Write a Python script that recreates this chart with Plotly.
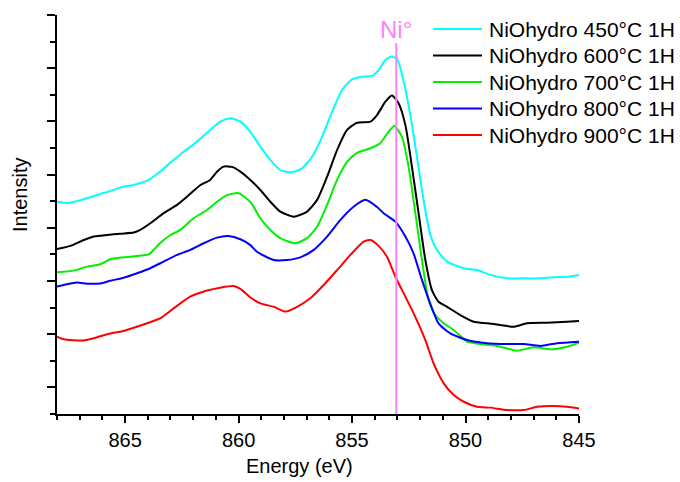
import plotly.graph_objects as go

# ---------------- data ----------------
labels = ["NiOhydro 450°C 1H", "NiOhydro 600°C 1H", "NiOhydro 700°C 1H",
          "NiOhydro 800°C 1H", "NiOhydro 900°C 1H"]
colors = ["#00FFFF", "#000000", "#00F000", "#0000FF", "#FF0000"]

e_450 = [868.0, 867.5, 866.8, 866.09, 865.73, 865.2, 864.63, 864.03, 863.59, 863.0, 862.42, 861.83,
         861.25, 860.8, 860.36, 859.92, 859.48, 859.04, 858.6, 858.16, 857.64, 857.2, 856.76, 856.32,
         855.88, 855.44, 855.0, 854.56, 854.12, 853.83, 853.53, 853.28, 853.02, 852.73, 852.43, 852.14,
         851.85, 851.55, 851.26, 850.81, 850.08, 849.49, 848.91, 848.17, 847.59, 846.85, 846.12, 845.53, 845.0]
i_450 = [7.98, 7.93, 8.08, 8.27, 8.36, 8.52, 8.61, 8.77, 9.02, 9.45, 9.86, 10.24,
         10.68, 10.99, 11.12, 10.99, 10.61, 10.05, 9.55, 9.17, 9.09, 9.24, 9.67, 10.42,
         11.36, 12.18, 12.58, 12.68, 12.71, 12.93, 13.31, 13.43, 13.35, 12.52, 11.24, 9.67,
         8.05, 6.73, 6.17, 5.73, 5.48, 5.41, 5.23, 5.10, 5.10, 5.10, 5.14, 5.16, 5.23]

e_600 = [868.0, 867.41, 866.82, 866.38, 865.79, 865.21, 864.62, 864.33, 863.89, 863.30, 862.71, 862.27,
         861.68, 861.25, 860.95, 860.66, 860.29, 859.92, 859.48, 859.04, 858.60, 858.16, 857.57, 856.98,
         856.54, 856.10, 855.66, 855.22, 854.78, 854.19, 853.90, 853.53, 853.24, 852.95, 852.65, 852.36,
         852.07, 851.77, 851.48, 851.19, 850.81, 850.23, 849.64, 849.05, 848.47, 847.88, 847.29, 846.41,
         845.53, 845.0]
i_600 = [6.20, 6.32, 6.54, 6.67, 6.73, 6.78, 6.82, 6.92, 7.17, 7.55, 7.86, 8.17,
         8.61, 8.80, 9.11, 9.30, 9.29, 9.11, 8.80, 8.42, 7.98, 7.61, 7.42, 7.61,
         8.05, 8.92, 9.92, 10.68, 10.95, 10.99, 11.24, 11.74, 11.97, 11.68, 10.86, 9.29,
         7.56, 5.79, 4.66, 4.22, 4.03, 3.72, 3.47, 3.41, 3.35, 3.28, 3.41, 3.43,
         3.47, 3.50]

e_700 = [868.0, 867.26, 866.67, 866.09, 865.65, 865.06, 864.47, 863.96, 863.74, 863.44, 863.0, 862.56,
         861.98, 861.39, 860.95, 860.51, 860.0, 859.48, 859.04, 858.60, 858.16, 857.5, 856.98, 856.54,
         856.10, 855.66, 855.22, 854.78, 854.19, 853.75, 853.39, 853.14, 852.80, 852.51, 852.21, 851.92,
         851.63, 851.33, 850.96, 850.52, 849.93, 849.35, 848.61, 847.73, 847.0, 846.26, 845.53, 845.0]
i_700 = [5.33, 5.39, 5.54, 5.63, 5.82, 5.89, 5.94, 6.00, 6.17, 6.44, 6.73, 6.92,
         7.36, 7.67, 7.98, 8.23, 8.30, 7.97, 7.36, 6.92, 6.61, 6.42, 6.61, 7.04,
         7.86, 8.80, 9.48, 9.82, 9.99, 10.19, 10.61, 10.83, 10.42, 9.30, 7.55, 5.79,
         4.29, 3.72, 3.41, 3.16, 2.72, 2.63, 2.56, 2.38, 2.51, 2.43, 2.53, 2.68]

e_800 = [868.0, 867.56, 867.11, 866.67, 866.09, 865.65, 865.06, 864.47, 863.89, 863.30, 862.71, 862.13,
         861.54, 860.95, 860.44, 859.92, 859.48, 859.19, 858.45, 857.86, 857.28, 856.69, 856.10, 855.52,
         854.93, 854.41, 853.90, 853.61, 853.09, 852.65, 852.29, 851.92, 851.55, 851.19, 850.67, 849.93,
         849.05, 848.17, 847.44, 846.70, 845.97, 845.0]
i_800 = [4.79, 4.88, 4.94, 4.90, 4.91, 5.01, 5.12, 5.29, 5.48, 5.73, 5.98, 6.17,
         6.42, 6.63, 6.69, 6.57, 6.35, 6.10, 5.79, 5.79, 5.89, 6.17, 6.67, 7.29,
         7.79, 8.05, 7.78, 7.55, 7.23, 6.67, 6.04, 5.04, 4.14, 3.41, 3.03, 2.78,
         2.66, 2.63, 2.63, 2.56, 2.66, 2.72]

e_900 = [868.0, 867.70, 866.89, 866.38, 865.65, 865.21, 864.62, 864.03, 863.44, 862.86, 862.13, 861.39,
         860.81, 860.22, 859.85, 859.48, 859.04, 858.45, 857.94, 857.42, 856.84, 856.25, 855.66, 855.07,
         854.49, 854.19, 853.83, 853.46, 853.09, 852.65, 852.29, 851.77, 851.41, 850.96, 850.52, 850.08,
         849.49, 848.91, 848.17, 847.44, 846.85, 846.12, 845.53, 845.0]
i_900 = [2.91, 2.81, 2.76, 2.85, 3.03, 3.09, 3.24, 3.41, 3.60, 3.97, 4.41, 4.64,
         4.75, 4.81, 4.66, 4.38, 4.16, 4.03, 3.85, 4.03, 4.35, 4.85, 5.41, 5.98,
         6.48, 6.54, 6.32, 5.91, 5.16, 4.41, 3.79, 2.78, 1.91, 1.15, 0.71, 0.46,
         0.27, 0.24, 0.15, 0.15, 0.27, 0.30, 0.27, 0.21]

ni_energy = 853.05
ni_label = "Ni°"
x_ticks = [865, 860, 855, 850, 845]

FONT = "Arial, 'Liberation Sans', sans-serif"

# plot-area geometry (pixels) used for placing legend / titles in paper coordinates
L, R, T, B = 57, 579, 15, 414
W, H = R - L, B - T


def px_x(p):
    return (p - L) / W


def px_y(p):
    return (B - p) / H


fig = go.Figure()
for e, i, lab, col in zip([e_450, e_600, e_700, e_800, e_900],
                          [i_450, i_600, i_700, i_800, i_900], labels, colors):
    fig.add_trace(go.Scatter(x=e, y=i, mode="lines", name=lab, showlegend=False,
                             line=dict(color=col, width=2, shape="spline", smoothing=0.6)))

# legend (drawn as line samples + text)
for k, (lab, col) in enumerate(zip(labels, colors)):
    yy = px_y(29 + 26.5 * k)
    fig.add_shape(type="line", xref="paper", yref="paper", x0=px_x(433), x1=px_x(482), y0=yy, y1=yy,
                  line=dict(color=col, width=2))
    fig.add_annotation(x=px_x(487), y=yy, xref="paper", yref="paper", text=lab, showarrow=False,
                       font=dict(family=FONT, size=21, color="black"), xanchor="left", yanchor="middle")

# Ni reference line
fig.add_shape(type="line", xref="x", yref="y", x0=ni_energy, x1=ni_energy, y0=0, y1=13.95,
              line=dict(color="#FF80FF", width=2), layer="above")
fig.add_annotation(x=ni_energy, y=14.45, xref="x", yref="y", text=ni_label, showarrow=False,
                   font=dict(family=FONT, size=24, color="#FF80FF"), xanchor="center", yanchor="middle")

# axis titles
fig.add_annotation(x=px_x(299), y=px_y(465.5), xref="paper", yref="paper", text="Energy (eV)",
                   showarrow=False, font=dict(family=FONT, size=20, color="black"),
                   xanchor="center", yanchor="middle")
fig.add_annotation(x=px_x(20), y=px_y(195), xref="paper", yref="paper", text="Intensity",
                   showarrow=False, textangle=-90, font=dict(family=FONT, size=20, color="black"),
                   xanchor="center", yanchor="middle")

fig.update_layout(
    width=680, height=482,
    margin=dict(l=L, r=680 - R, t=T, b=482 - B),
    paper_bgcolor="white", plot_bgcolor="white",
    font=dict(family=FONT, size=20, color="black"),
    showlegend=False,
)
fig.update_xaxes(range=[868, 845], showline=True, linecolor="black", linewidth=1.5,
                 showgrid=False, zeroline=False, ticks="outside", ticklen=7, tickwidth=1.5,
                 tickcolor="black", tickvals=x_ticks, tickfont=dict(family=FONT, size=20),
                 minor=dict(ticks="outside", ticklen=4, tickwidth=1.5, tickcolor="black", dtick=1,
                            showgrid=False))
fig.update_yaxes(range=[0, 15], showline=True, linecolor="black", linewidth=1.5,
                 showgrid=False, zeroline=False, ticks="outside", ticklen=8, tickwidth=1.5,
                 tickcolor="black", tick0=1, dtick=2, showticklabels=False,
                 minor=dict(ticks="outside", ticklen=5, tickwidth=1.5, tickcolor="black", dtick=1,
                            showgrid=False))

fig.write_html("out.html", config={"displayModeBar": False},
               post_script="document.body.style.margin='0';")
